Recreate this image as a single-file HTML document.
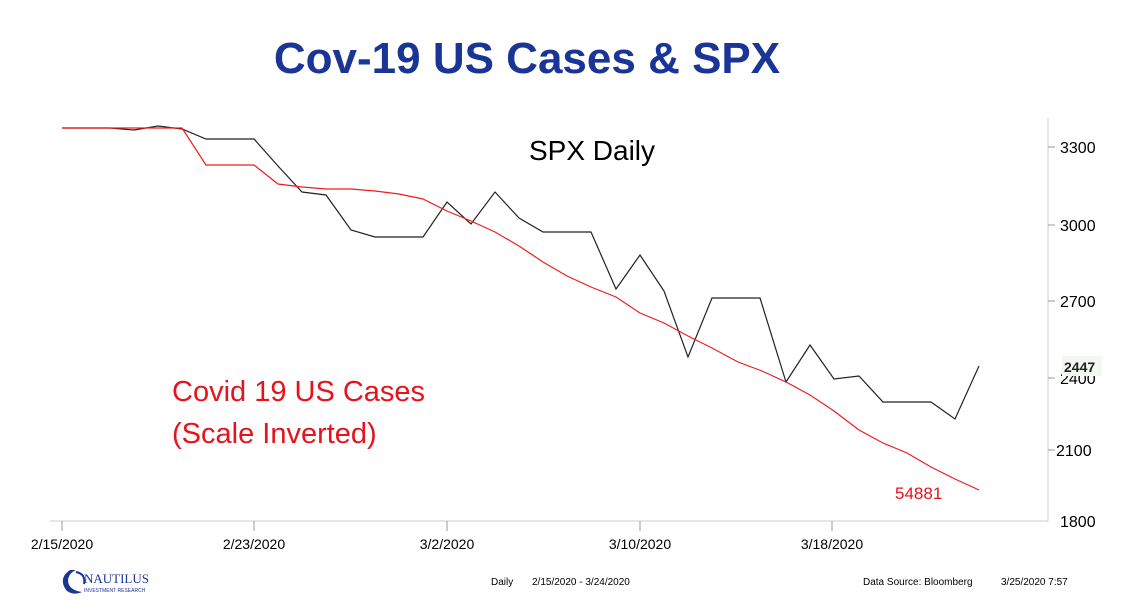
<!DOCTYPE html>
<html><head><meta charset="utf-8"><style>
body{margin:0;background:#fff;width:1141px;height:609px;overflow:hidden}
svg{display:block}
</style></head><body>
<svg width="1141" height="609" viewBox="0 0 1141 609" font-family="'Liberation Sans', sans-serif">
<text x="527" y="73" text-anchor="middle" font-size="44" font-weight="bold" fill="#1a3596">Cov-19 US Cases &amp; SPX</text>
<text x="592" y="160" text-anchor="middle" font-size="28" fill="#000">SPX Daily</text>
<text x="172" y="401" font-size="29" fill="#e8121b">Covid 19 US Cases</text>
<text x="172" y="443" font-size="29" fill="#e8121b">(Scale Inverted)</text>
<text x="895" y="499" font-size="17" fill="#e8121b">54881</text>
<line x1="1048" y1="118" x2="1048" y2="521" stroke="#ccc" stroke-width="1"/>
<line x1="50" y1="521" x2="1048" y2="521" stroke="#ccc" stroke-width="1"/>
<g stroke="#999" stroke-width="1">
<line x1="1048" y1="147" x2="1055" y2="147"/><line x1="1048" y1="225" x2="1055" y2="225"/>
<line x1="1048" y1="301" x2="1055" y2="301"/><line x1="1048" y1="378" x2="1055" y2="378"/>
<line x1="1048" y1="450" x2="1055" y2="450"/>
<line x1="62" y1="521" x2="62" y2="531"/><line x1="254" y1="521" x2="254" y2="531"/>
<line x1="447" y1="521" x2="447" y2="531"/><line x1="640" y1="521" x2="640" y2="531"/>
<line x1="832" y1="521" x2="832" y2="531"/>
</g>
<g font-size="16" fill="#000">
<text x="1060" y="153">3300</text><text x="1060" y="231">3000</text>
<text x="1060" y="307">2700</text><text x="1060" y="384">2400</text>
<text x="1056" y="456">2100</text><text x="1060" y="527">1800</text>
</g>
<rect x="1062" y="356" width="40" height="20" fill="#f2f7f2"/>
<text x="1064" y="372" font-size="14" font-weight="bold" fill="#222">2447</text>
<g font-size="14" fill="#000" text-anchor="middle">
<text x="62" y="549">2/15/2020</text><text x="254" y="549">2/23/2020</text>
<text x="447" y="549">3/2/2020</text><text x="640" y="549">3/10/2020</text>
<text x="832" y="549">3/18/2020</text>
</g>
<polyline fill="none" stroke="#222" stroke-width="1.2" points="62,128 86,128 110,128 134,130 158,126 182,129 206,139 230,139 254,139 278,166 302,192 326,195 351,230 375,237 399,237 423,237 447,202 471,224 495,192 519,218 543,232 567,232 591,232 616,289 640,255 664,291 688,357 712,298 736,298 760,298 786,382 810,345 834,379 859,376 883,402 907,402 931,402 955,419 979,366"/>
<polyline fill="none" stroke="#f01c1c" stroke-width="1.2" points="62,128 86,128 110,128 134,128 158,128 182,128 206,165 230,165 254,165 278,184 302,187 326,189 351,189 375,191 399,194 423,199 447,211 471,221 495,232 519,246 543,262 567,276 591,287 616,297 640,313 664,323 688,336 712,348 738,362 762,371 786,382 810,395 834,411 859,430 883,443 907,453 931,467 955,479 979,490"/>
<g>
<path d="M70 570 Q58 578 66 590 Q72 596 82 592 Q68 590 68 580 Q69 573 76 570 Z" fill="#1a3596"/>
<path d="M76 572 Q86 574 84 584" fill="none" stroke="#1a3596" stroke-width="2"/>
<text x="84" y="583" font-size="13" font-family="'Liberation Serif', serif" fill="#1a3596">NAUTILUS</text>
<text x="84" y="592" font-size="5" fill="#1a3596">INVESTMENT RESEARCH</text>
</g>
<g font-size="10" fill="#000">
<text x="491" y="585">Daily</text><text x="532" y="585">2/15/2020 - 3/24/2020</text>
<text x="863" y="585">Data Source: Bloomberg</text><text x="1001" y="585">3/25/2020 7:57</text>
</g>
</svg>
</body></html>
